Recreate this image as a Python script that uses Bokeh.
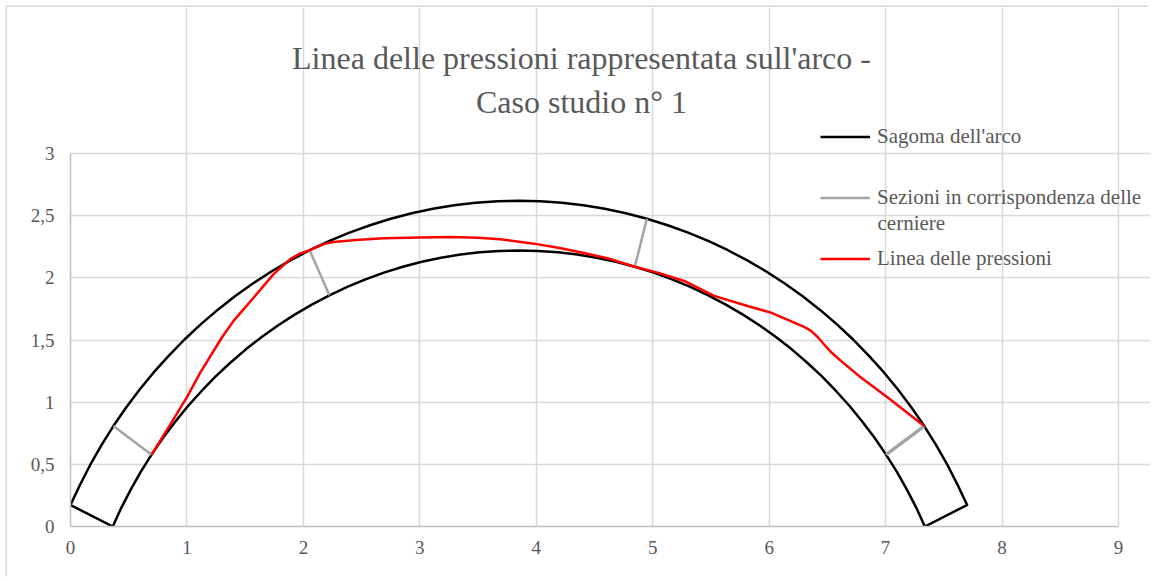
from bokeh.plotting import figure
from bokeh.models import Range1d, FixedTicker, Legend, LegendItem, Label
from bokeh.embed import file_html
from bokeh.resources import INLINE

# ---- data ----
title_lines = ["Linea delle pressioni rappresentata sull'arco -", "Caso studio n° 1"]
series_names = ["Sagoma dell'arco", "Sezioni in corrispondenza delle", "cerniere", "Linea delle pressioni"]

x_ticks = [0, 1, 2, 3, 4, 5, 6, 7, 8, 9]
y_ticks = [0, 0.5, 1, 1.5, 2, 2.5, 3]
y_tick_labels = ["0", "0,5", "1", "1,5", "2", "2,5", "3"]

# outer (extrados) edge of the arch, left to right
outer_x = [0.0, 0.080, 0.169, 0.266, 0.368, 0.478, 0.594, 0.716, 0.845, 0.979, 1.118, 1.263, 1.412, 1.566,
           1.725, 1.888, 2.054, 2.224, 2.396, 2.572, 2.750, 2.930, 3.112, 3.295, 3.479, 3.665, 3.85,
           4.035, 4.221, 4.405, 4.588, 4.770, 4.950, 5.128, 5.304, 5.476, 5.646, 5.812, 5.975, 6.134,
           6.288, 6.437, 6.582, 6.721, 6.855, 6.984, 7.106, 7.222, 7.332, 7.434, 7.531, 7.620, 7.70]
outer_y = [0.173, 0.332, 0.495, 0.654, 0.808, 0.957, 1.102, 1.241, 1.375, 1.504, 1.626, 1.742, 1.852, 1.954,
           2.051, 2.140, 2.222, 2.297, 2.364, 2.423, 2.475, 2.519, 2.555, 2.583, 2.604, 2.616, 2.62,
           2.616, 2.604, 2.583, 2.555, 2.519, 2.475, 2.423, 2.364, 2.297, 2.222, 2.140, 2.051, 1.954,
           1.852, 1.742, 1.626, 1.504, 1.375, 1.241, 1.102, 0.957, 0.808, 0.654, 0.495, 0.332, 0.173]
# inner (intrados) edge of the arch, left to right
inner_x = [0.363, 0.435, 0.516, 0.603, 0.696, 0.795, 0.901, 1.011, 1.128, 1.249, 1.375, 1.506, 1.642, 1.781,
           1.925, 2.072, 2.223, 2.377, 2.533, 2.692, 2.854, 3.017, 3.182, 3.348, 3.514, 3.682, 3.85,
           4.018, 4.186, 4.352, 4.518, 4.683, 4.846, 5.008, 5.167, 5.323, 5.477, 5.628, 5.775, 5.919,
           6.058, 6.194, 6.325, 6.451, 6.572, 6.689, 6.799, 6.905, 7.004, 7.097, 7.184, 7.265, 7.337]
inner_y = [0.0, 0.148, 0.295, 0.439, 0.578, 0.714, 0.845, 0.971, 1.092, 1.209, 1.319, 1.425, 1.524, 1.617,
           1.704, 1.785, 1.859, 1.927, 1.988, 2.042, 2.089, 2.129, 2.161, 2.187, 2.205, 2.216, 2.22,
           2.216, 2.205, 2.187, 2.161, 2.129, 2.089, 2.042, 1.988, 1.927, 1.859, 1.785, 1.704, 1.617,
           1.524, 1.425, 1.319, 1.209, 1.092, 0.971, 0.845, 0.714, 0.578, 0.439, 0.295, 0.148, 0.0]

# hinge sections
hinge_x = [[0.368, 0.696], [2.054, 2.223], [4.950, 4.846]]
hinge_y = [[0.808, 0.578], [2.222, 1.859], [2.475, 2.089]]
hinge4_x = [7.332, 7.004]
hinge4_y = [0.808, 0.578]

# line of pressures
press_x = [0.696, 0.85, 1.0, 1.113, 1.30, 1.40, 1.572, 1.744, 1.887, 1.97, 2.054, 2.12, 2.19, 2.26, 2.45, 2.69,
           3.0, 3.263, 3.5, 3.69, 3.98, 4.2, 4.41, 4.62, 4.846, 5.05, 5.27, 5.527, 5.814, 6.015, 6.215,
           6.30, 6.36, 6.42, 6.47, 6.54, 6.616, 6.788, 7.018, 7.332]
press_y = [0.578, 0.81, 1.04, 1.235, 1.52, 1.654, 1.84, 2.03, 2.15, 2.195, 2.222, 2.25, 2.275, 2.288, 2.305, 2.318,
           2.325, 2.329, 2.323, 2.31, 2.275, 2.24, 2.20, 2.155, 2.089, 2.04, 1.975, 1.855, 1.774, 1.72, 1.64,
           1.605, 1.573, 1.52, 1.466, 1.395, 1.332, 1.198, 1.037, 0.808]

FONT = "Liberation Serif"
TXT = "#595959"
GRID = "#d9d9d9"

# plot area 0..9 x 0..3 spans 1048 x 373 px; the frame is enlarged so title/legend sit inside it
FRAME_W, FRAME_H = 1080, 519
x_end = 9 * FRAME_W / 1048
y_end = 3 * FRAME_H / 373

p = figure(frame_width=FRAME_W, frame_height=FRAME_H,
           min_border_left=63, min_border_right=0, min_border_top=0, min_border_bottom=52,
           x_range=Range1d(0, x_end), y_range=Range1d(0, y_end),
           output_backend="svg", toolbar_location=None,
           background_fill_color="white", border_fill_color="white")
p.styles = {"margin-left": "7px", "margin-top": "7px",
            "box-shadow": "-1.5px -1.5px 0 0 #d9d9d9"}
p.outline_line_color = None

p.xaxis.ticker = FixedTicker(ticks=x_ticks)
p.yaxis.ticker = FixedTicker(ticks=y_ticks)
p.xaxis.bounds = (0, 9)
p.yaxis.bounds = (0, 3)
p.yaxis.major_label_overrides = {t: l for t, l in zip(y_ticks, y_tick_labels)}
for ax in (p.xaxis, p.yaxis):
    ax.axis_line_color = "#bfbfbf"
    ax.axis_line_width = 1.5
    ax.major_tick_line_color = None
    ax.minor_tick_line_color = None
    ax.major_tick_out = 0
    ax.major_tick_in = 0
    ax.major_label_text_font = FONT
    ax.major_label_text_font_size = "19px"
    ax.major_label_text_color = TXT
p.xaxis.major_label_standoff = 14
p.yaxis.major_label_standoff = 16
p.xgrid.bounds = (0, 3)
p.ygrid.bounds = (0, 9)
p.grid.grid_line_color = GRID
p.grid.grid_line_width = 1.5

arch_x = outer_x + inner_x[::-1] + [outer_x[0]]
arch_y = outer_y + inner_y[::-1] + [outer_y[0]]
r_arch = p.line(arch_x, arch_y, line_color="black", line_width=2.5, line_join="round")
r_hinge = p.multi_line(hinge_x, hinge_y, line_color="#a5a5a5", line_width=2.5)
p.line(hinge4_x, hinge4_y, line_color="#a5a5a5", line_width=3.5)
r_press = p.line(press_x, press_y, line_color="#ff0000", line_width=2.5, line_join="round")

legend = Legend(items=[LegendItem(label=series_names[0], renderers=[r_arch]),
                       LegendItem(label=series_names[1], renderers=[r_hinge]),
                       LegendItem(label=series_names[3], renderers=[r_press])],
                location=(750, 255), orientation="vertical",
                glyph_width=50, glyph_height=25, label_height=25, label_standoff=7, spacing=36,
                padding=0, margin=0, border_line_color=None, background_fill_alpha=0,
                label_text_font=FONT, label_text_font_size="21px", label_text_color=TXT)
p.add_layout(legend)

p.add_layout(Label(x=807, y=304, x_units="screen", y_units="screen", text=series_names[2],
                   text_font=FONT, text_font_size="21px", text_color=TXT,
                   text_align="left", text_baseline="middle"))

p.add_layout(Label(x=511, y=468.7, x_units="screen", y_units="screen", text=title_lines[0],
                   text_font=FONT, text_font_size="32px", text_color=TXT,
                   text_align="center", text_baseline="alphabetic"))
p.add_layout(Label(x=511, y=424.3, x_units="screen", y_units="screen", text=title_lines[1],
                   text_font=FONT, text_font_size="32px", text_color=TXT,
                   text_align="center", text_baseline="alphabetic"))

open("out.html", "w").write(file_html(p, INLINE))
